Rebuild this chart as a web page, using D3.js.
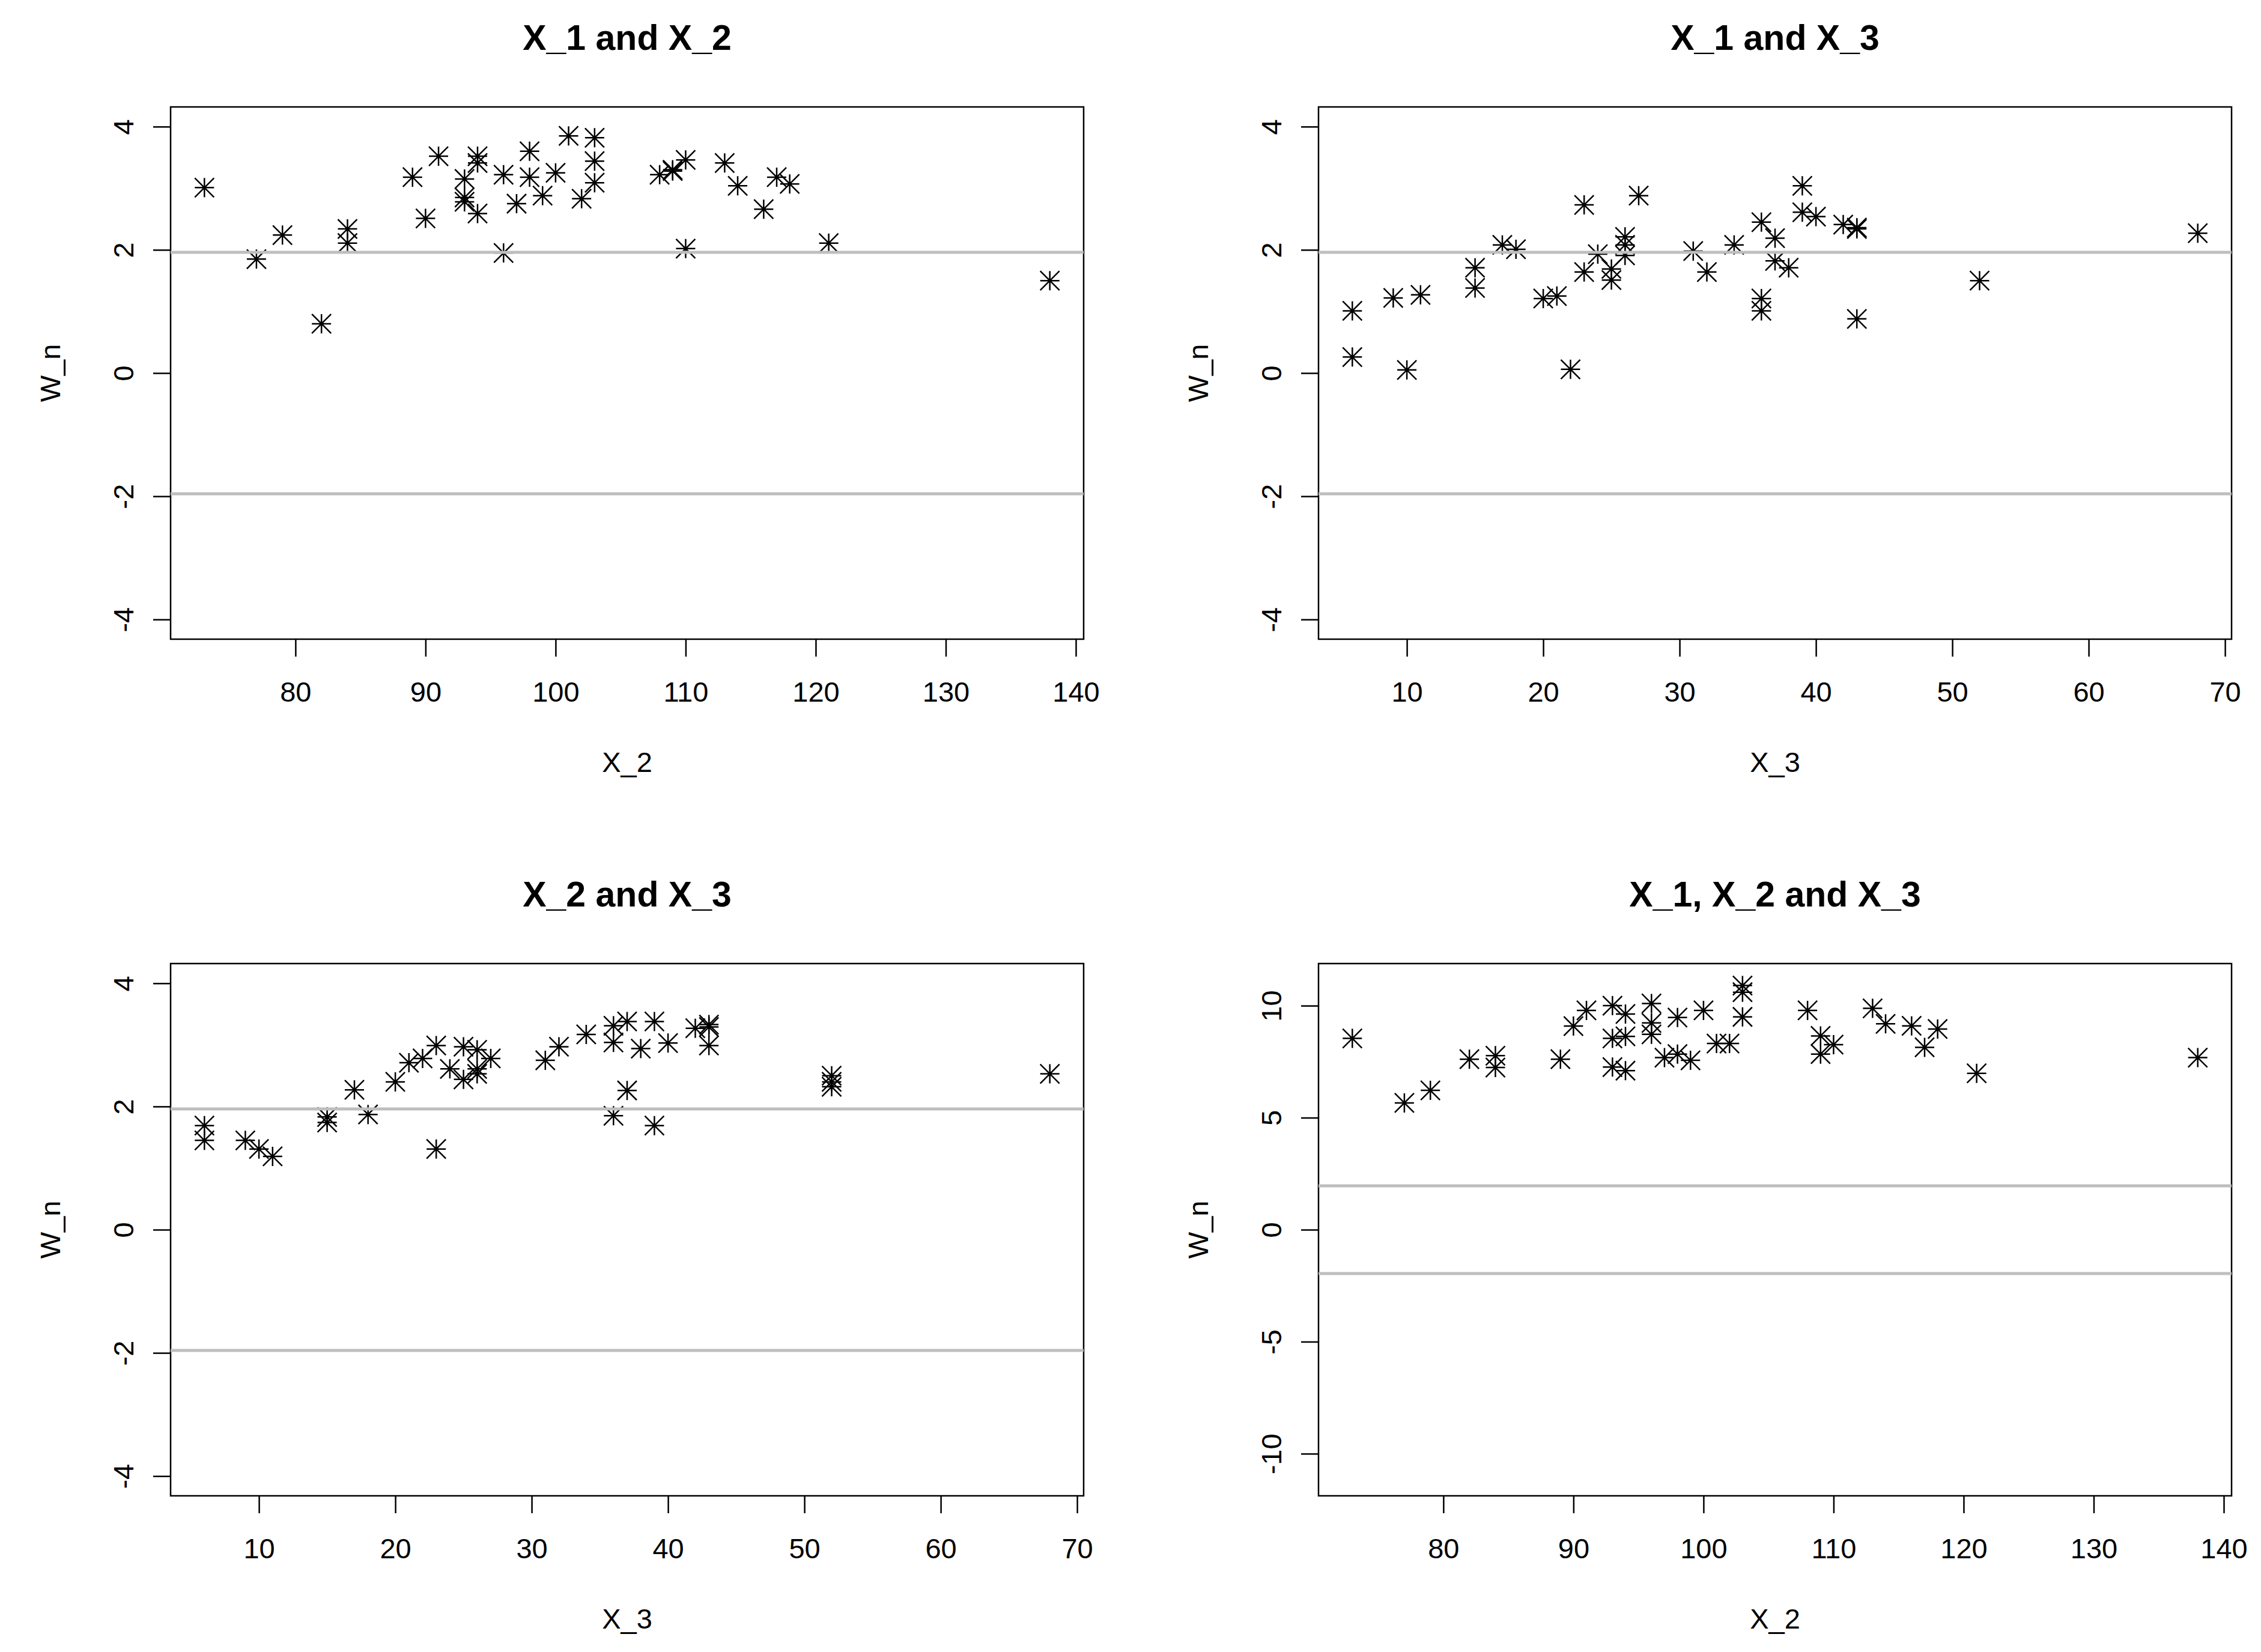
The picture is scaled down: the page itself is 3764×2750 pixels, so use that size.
<!DOCTYPE html>
<html><head><meta charset="utf-8">
<script src="https://cdn.jsdelivr.net/npm/d3@7"></script>
<style>html,body{margin:0;padding:0;background:#fff;} svg{display:block;}</style>
</head><body><svg id="chart" width="3764" height="2750"></svg>
<script>
// ---- data ----
const p1X = [73,77,79,82,84,84,89,90,91,93,93,93,94,94,94,96,96,97,98,98,99,100,101,102,103,103,103,108,109,109,110,110,113,114,116,117,118,121,138];
const p1W = [3.01,1.85,2.24,0.80,2.34,2.11,3.18,2.51,3.52,3.15,2.85,2.78,3.52,3.41,2.59,3.22,1.95,2.75,3.60,3.18,2.88,3.25,3.85,2.83,3.82,3.44,3.09,3.22,3.28,3.30,3.46,2.02,3.41,3.04,2.66,3.18,3.07,2.11,1.50];

const p2X = [6,6,9,10,11,15,15,17,18,20,21,22,23,23,24,25,25,26,26,26,27,31,32,34,36,36,36,37,37,38,39,39,40,42,43,43,43,52,68];
const p2W = [1.01,0.26,1.22,0.05,1.27,1.71,1.38,2.08,2.01,1.21,1.25,0.06,2.73,1.64,1.93,1.69,1.51,2.21,2.08,1.91,2.88,1.98,1.64,2.08,2.45,1.21,1.01,2.19,1.82,1.71,3.04,2.61,2.54,2.41,2.36,2.34,0.88,1.50,2.27];

const p3X = [6,6,9,10,11,15,15,17,18,20,21,22,23,23,24,25,25,26,26,26,27,31,32,34,36,36,36,37,37,38,39,39,40,42,43,43,43,52,52,52,68];
const p3W = [1.69,1.45,1.45,1.31,1.19,1.83,1.74,2.27,1.87,2.40,2.71,2.78,2.99,1.31,2.61,2.97,2.44,2.92,2.61,2.53,2.78,2.75,2.97,3.17,3.31,3.04,1.85,3.38,2.26,2.94,3.38,1.69,3.03,3.27,3.33,3.29,2.99,2.50,2.40,2.32,2.53];

const p4X = [73,77,79,82,84,84,89,90,91,93,93,93,94,94,94,96,96,96,97,98,98,99,100,101,102,103,103,103,108,109,109,110,113,114,116,117,118,121,138];
const p4W = [8.54,5.66,6.22,7.61,7.77,7.24,7.61,9.09,9.79,10.0,8.54,7.26,9.63,8.63,7.10,10.1,9.23,8.72,7.68,9.47,7.84,7.56,9.79,8.31,8.31,10.9,10.6,9.5,9.79,8.65,7.84,8.26,9.88,9.19,9.1,8.14,8.96,6.98,7.68];

const xTicksX2 = [80,90,100,110,120,130,140];
const xTicksX3 = [10,20,30,40,50,60,70];
const yTicksSmall = [-4,-2,0,2,4];
const yTicksBig = [-10,-5,0,5,10];
const yLimSmall = [-4,4];
const yLimBig = [-11,11];
const refLines = [-1.96, 1.96];
const titles = ["X_1 and X_2","X_1 and X_3","X_2 and X_3","X_1, X_2 and X_3"];
const xLabels = ["X_2","X_3","X_3","X_2"];
const yLabel = "W_n";

// ---- layout ----
const FONT = "'Liberation Sans', Arial, Helvetica, sans-serif";
const boxW = 1520, boxH = 886;
const origins = [[284,178],[2195,178],[284,1604],[2195,1604]];
const panels = [
  {x:p1X, y:p1W, xt:xTicksX2, yt:yTicksSmall, yl:yLimSmall},
  {x:p2X, y:p2W, xt:xTicksX3, yt:yTicksSmall, yl:yLimSmall},
  {x:p3X, y:p3W, xt:xTicksX3, yt:yTicksSmall, yl:yLimSmall},
  {x:p4X, y:p4W, xt:xTicksX2, yt:yTicksBig,   yl:yLimBig}
];

function rExtend(lim){ const r = lim[1]-lim[0]; return [lim[0]-0.04*r, lim[1]+0.04*r]; }

const svg = d3.select("#chart");
svg.append("rect").attr("width",3764).attr("height",2750).attr("fill","#fff");

panels.forEach((p,i)=>{
  const [ox, oy] = origins[i];
  const xs = d3.scaleLinear().domain(rExtend(d3.extent(p.x))).range([ox, ox+boxW]);
  const ys = d3.scaleLinear().domain(rExtend(p.yl)).range([oy+boxH, oy]);
  const g = svg.append("g");

  // points (pch = 8)
  const star = "M-16,0H16M0,-16V16M-16,-16L16,16M-16,16L16,-16";
  g.append("g").selectAll("path").data(p.x.map((v,k)=>[v,p.y[k]])).join("path")
    .attr("d", star)
    .attr("transform", d=>`translate(${xs(d[0])},${ys(d[1])})`)
    .attr("fill","none").attr("stroke","#000").attr("stroke-width",2.5);

  // box
  g.append("rect").attr("x",ox).attr("y",oy).attr("width",boxW).attr("height",boxH)
    .attr("fill","none").attr("stroke","#000").attr("stroke-width",2.5);

  // reference lines
  g.append("g").selectAll("line").data(refLines).join("line")
    .attr("x1",ox).attr("x2",ox+boxW)
    .attr("y1",d=>ys(d)).attr("y2",d=>ys(d))
    .attr("stroke","#BEBEBE").attr("stroke-width",5);

  // x axis
  const xa = g.append("g").attr("transform",`translate(0,${oy+boxH})`)
    .call(d3.axisBottom(xs).tickValues(p.xt).tickSize(29).tickSizeOuter(0).tickFormat(d3.format("d")));
  xa.select(".domain").remove();
  xa.selectAll(".tick line").attr("stroke","#000").attr("stroke-width",2.5);
  xa.selectAll(".tick text").attr("y",104).attr("dy",0)
    .attr("font-family",FONT).attr("font-size",47).attr("fill","#000");

  // y axis
  const ya = g.append("g").attr("transform",`translate(${ox},0)`)
    .call(d3.axisLeft(ys).tickValues(p.yt).tickSize(29).tickSizeOuter(0).tickFormat(d3.format("d")));
  ya.select(".domain").remove();
  ya.selectAll(".tick line").attr("stroke","#000").attr("stroke-width",2.5);
  ya.selectAll(".tick text").attr("x",0).attr("y",0).attr("dy",0)
    .attr("transform","translate(-62,0) rotate(-90)")
    .attr("text-anchor","middle")
    .attr("font-family",FONT).attr("font-size",47).attr("fill","#000")
    .text(d=>d<0 ? "-"+Math.abs(d) : String(d));

  // title
  g.append("text").attr("x",ox+boxW/2).attr("y",oy-95).attr("text-anchor","middle")
    .attr("font-family",FONT).attr("font-size",59).attr("font-weight","bold").text(titles[i]);
  // x label
  g.append("text").attr("x",ox+boxW/2).attr("y",oy+boxH+221).attr("text-anchor","middle")
    .attr("font-family",FONT).attr("font-size",47).text(xLabels[i]);
  // y label
  g.append("text").attr("transform",`translate(${ox-184},${oy+boxH/2}) rotate(-90)`)
    .attr("text-anchor","middle")
    .attr("font-family",FONT).attr("font-size",47).text(yLabel);
});
</script></body></html>
